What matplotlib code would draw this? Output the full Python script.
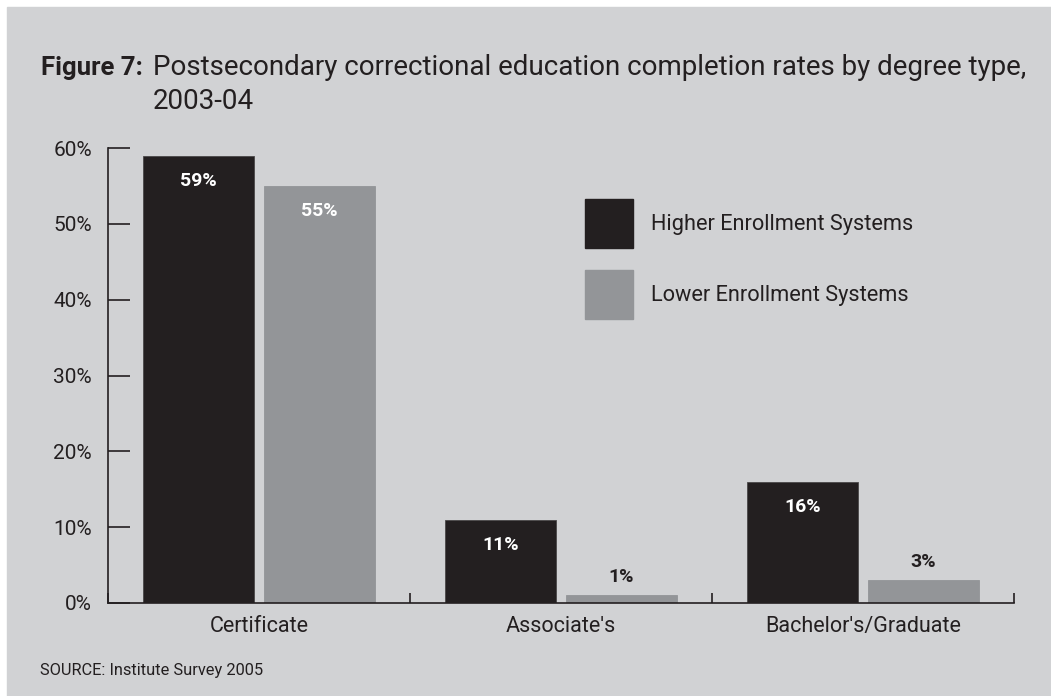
import numpy as np
import matplotlib.pyplot as plt
from matplotlib.patches import Rectangle

# Datos
categorias = ["Certificate", "Associate's", "Bachelor's/Graduate"]
higher = [59, 11, 16]
lower = [55, 1, 3]
series = ["Higher Enrollment Systems", "Lower Enrollment Systems"]
yticks = [0, 10, 20, 30, 40, 50, 60]

fondo = '#d1d2d4'
oscuro = '#231f20'
gris = '#939598'
fuente = 'Roboto'

plt.rcParams['font.family'] = [fuente, 'DejaVu Sans']

fig = plt.figure(figsize=(10.51, 6.96), dpi=100)
fig.patch.set_facecolor('white')
# panel gris con borde blanco arriba e izquierda
fig.patches.append(Rectangle((7/1051, 0), 1 - 7/1051, 1 - 7/696,
                             transform=fig.transFigure, color=fondo, zorder=-1))

ax = fig.add_axes([108/1051, 93/696, (1014-108)/1051, (603-148)/696])
ax.set_facecolor(fondo)

x = np.arange(len(categorias))
ancho = 0.365
b1 = ax.bar(x - 0.2, higher, ancho, color=oscuro, edgecolor='#4a4748', linewidth=0.6)
b2 = ax.bar(x + 0.2, lower, ancho, color=gris, edgecolor=gris, linewidth=0.6)

# etiquetas de valores
for barras, vals in [(b1, higher), (b2, lower)]:
    for r, v in zip(barras, vals):
        cx = r.get_x() + r.get_width()/2
        if v >= 10:
            ax.annotate(f'{v}%', (cx, v), xytext=(0, -18), textcoords='offset points',
                        ha='center', va='center', color='white', fontsize=14,
                        fontweight='bold')
        else:
            ax.annotate(f'{v}%', (cx, v), xytext=(0, 13), textcoords='offset points',
                        ha='center', va='center', color=oscuro, fontsize=14,
                        fontweight='bold')

ax.set_xlim(-0.5, 2.5)
ax.set_ylim(0, 60)
for s in ['top', 'right']:
    ax.spines[s].set_visible(False)
for s in ['left', 'bottom']:
    ax.spines[s].set_color(oscuro)
    ax.spines[s].set_linewidth(1.2)

ax.set_yticks(yticks)
ax.set_yticklabels([f'{t}%' for t in yticks])
ax.tick_params(axis='y', direction='in', length=16, width=1.2, color=oscuro,
               labelsize=15, labelcolor=oscuro, pad=11.5)

ax.set_xticks([-0.5, 0.5, 1.5, 2.5])
ax.set_xticklabels([])
ax.tick_params(axis='x', direction='in', length=7.5, width=1.2, color=oscuro)
for xi, c in zip(x, categorias):
    ax.text(xi, -3.05, c, ha='center', va='center', fontsize=15.5, color=oscuro)

# leyenda manual
for i, (nombre, col) in enumerate(zip(series, [oscuro, gris])):
    y0 = 1 - (199 + i*71)/696
    fig.patches.append(Rectangle((585/1051, y0 - 49/696), 48/1051, 49/696,
                                 transform=fig.transFigure, color=col))
    fig.text(651/1051, y0 - 25/696, nombre, ha='left', va='center',
             fontsize=15.7, color=oscuro)

# titulo
fig.text(41/1051, 1 - 75/696, 'Figure 7:', ha='left', va='baseline',
         fontsize=18.5, fontweight='bold', color=oscuro)
fig.text(153/1051, 1 - 75/696,
         'Postsecondary correctional education completion rates by degree type,',
         ha='left', va='baseline', fontsize=20, color=oscuro)
fig.text(153/1051, 1 - 109/696, '2003-04', ha='left', va='baseline',
         fontsize=20, color=oscuro)

fig.text(40/1051, 1 - 670/696, 'SOURCE: Institute Survey 2005', ha='left',
         va='center', fontsize=11.8, color=oscuro)

plt.savefig('out.png', dpi=100, facecolor=fig.get_facecolor())
